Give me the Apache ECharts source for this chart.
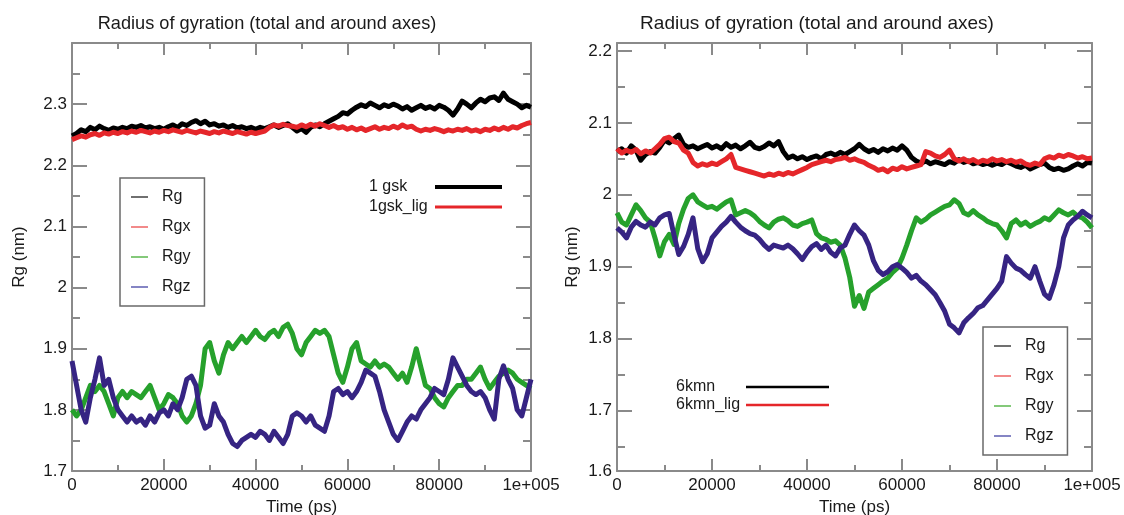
<!DOCTYPE html>
<html>
<head>
<meta charset="utf-8">
<script src="https://cdn.jsdelivr.net/npm/echarts@6/dist/echarts.min.js"></script>
<style>html,body{margin:0;padding:0;background:#fff}#c{width:1124px;height:515px}</style>
</head>
<body>
<div id="c"></div>
<script>
// ---- data (Rg in nm, sampled every 1000 ps from 0 to 100000 ps) ----
var timeStepPs = 1000;
var seriesNames = ['Rg', 'Rgx', 'Rgy', 'Rgz'];
var lineColors = ['#000000', '#e5262a', '#26a12c', '#362483'];
var legendColors = ['#707070', '#f28a8a', '#84c97a', '#8585c4'];
var xTickLabels = ['0', '20000', '40000', '60000', '80000', '1e+005'];

// left panel: 1gsk
var gskRg = [2.248,2.252,2.258,2.255,2.262,2.258,2.264,2.260,2.257,2.261,
 2.259,2.262,2.260,2.264,2.262,2.265,2.261,2.263,2.260,2.262,
 2.259,2.263,2.266,2.262,2.268,2.265,2.270,2.273,2.268,2.272,
 2.266,2.268,2.264,2.266,2.262,2.265,2.261,2.263,2.260,2.262,
 2.259,2.262,2.260,2.263,2.266,2.262,2.265,2.268,2.262,2.256,
 2.260,2.254,2.262,2.266,2.263,2.268,2.272,2.276,2.280,2.286,
 2.284,2.290,2.295,2.299,2.296,2.302,2.298,2.294,2.299,2.296,
 2.300,2.297,2.292,2.296,2.290,2.294,2.298,2.293,2.296,2.292,
 2.298,2.295,2.290,2.282,2.292,2.305,2.300,2.294,2.302,2.308,
 2.304,2.310,2.312,2.306,2.318,2.308,2.304,2.300,2.294,2.298,
 2.295];
var gskRgx = [2.242,2.245,2.248,2.246,2.250,2.252,2.249,2.253,2.251,2.254,
 2.252,2.255,2.253,2.256,2.254,2.257,2.255,2.253,2.256,2.254,
 2.257,2.255,2.258,2.256,2.254,2.257,2.255,2.253,2.256,2.254,
 2.252,2.255,2.253,2.256,2.254,2.252,2.255,2.253,2.251,2.254,
 2.252,2.254,2.256,2.262,2.266,2.264,2.267,2.265,2.264,2.262,
 2.266,2.263,2.267,2.264,2.268,2.265,2.262,2.265,2.261,2.263,
 2.259,2.262,2.258,2.261,2.257,2.260,2.263,2.259,2.262,2.260,
 2.264,2.261,2.266,2.262,2.264,2.259,2.256,2.259,2.257,2.260,
 2.258,2.255,2.258,2.256,2.259,2.257,2.260,2.256,2.258,2.255,
 2.259,2.257,2.261,2.258,2.262,2.259,2.263,2.261,2.265,2.268,
 2.270];
var gskRgy = [1.80,1.79,1.80,1.82,1.84,1.83,1.84,1.83,1.81,1.79,
 1.82,1.83,1.82,1.83,1.825,1.82,1.83,1.84,1.82,1.80,
 1.81,1.825,1.82,1.81,1.79,1.78,1.79,1.81,1.84,1.90,
 1.91,1.88,1.86,1.89,1.91,1.90,1.91,1.92,1.91,1.92,
 1.93,1.92,1.915,1.925,1.93,1.92,1.935,1.94,1.925,1.90,
 1.89,1.91,1.92,1.93,1.925,1.93,1.92,1.89,1.86,1.845,
 1.87,1.90,1.91,1.88,1.875,1.87,1.88,1.87,1.875,1.87,
 1.86,1.85,1.86,1.845,1.87,1.90,1.87,1.84,1.835,1.82,
 1.81,1.805,1.82,1.83,1.84,1.84,1.85,1.85,1.86,1.87,
 1.85,1.835,1.845,1.855,1.86,1.865,1.86,1.85,1.845,1.84,
 1.835];
var gskRgz = [1.88,1.84,1.80,1.78,1.82,1.85,1.885,1.84,1.85,1.82,
 1.80,1.79,1.78,1.79,1.78,1.785,1.775,1.79,1.78,1.795,
 1.80,1.79,1.81,1.80,1.82,1.85,1.855,1.84,1.79,1.77,
 1.775,1.81,1.79,1.78,1.76,1.745,1.74,1.75,1.755,1.76,
 1.755,1.765,1.76,1.75,1.765,1.755,1.745,1.76,1.79,1.795,
 1.79,1.78,1.79,1.775,1.77,1.765,1.79,1.83,1.835,1.825,
 1.83,1.82,1.83,1.845,1.865,1.86,1.855,1.83,1.80,1.78,
 1.76,1.75,1.765,1.78,1.79,1.785,1.80,1.81,1.82,1.835,
 1.83,1.825,1.85,1.885,1.87,1.855,1.84,1.83,1.825,1.83,
 1.82,1.80,1.785,1.85,1.872,1.85,1.835,1.80,1.79,1.82,
 1.85];

// right panel: 6kmn
var kmnRg = [2.060,2.064,2.058,2.068,2.062,2.048,2.056,2.060,2.058,2.066,
 2.076,2.072,2.078,2.083,2.070,2.066,2.068,2.064,2.067,2.070,
 2.065,2.068,2.064,2.071,2.066,2.069,2.064,2.068,2.073,2.066,
 2.064,2.067,2.072,2.068,2.074,2.060,2.051,2.054,2.050,2.053,
 2.049,2.052,2.054,2.050,2.056,2.058,2.055,2.059,2.056,2.060,
 2.064,2.070,2.064,2.060,2.063,2.059,2.064,2.061,2.065,2.062,
 2.068,2.062,2.052,2.047,2.044,2.047,2.043,2.046,2.044,2.042,
 2.046,2.044,2.049,2.045,2.047,2.043,2.045,2.042,2.044,2.041,
 2.044,2.042,2.046,2.043,2.040,2.038,2.041,2.036,2.039,2.042,
 2.044,2.038,2.035,2.037,2.034,2.036,2.040,2.043,2.040,2.045,
 2.044];
var kmnRgx = [2.064,2.058,2.062,2.059,2.063,2.057,2.061,2.058,2.064,2.070,
 2.078,2.080,2.074,2.072,2.062,2.058,2.045,2.040,2.043,2.041,
 2.044,2.042,2.046,2.050,2.056,2.038,2.036,2.034,2.032,2.030,
 2.028,2.026,2.029,2.027,2.030,2.028,2.031,2.029,2.032,2.035,
 2.038,2.042,2.044,2.046,2.048,2.046,2.049,2.050,2.052,2.048,
 2.050,2.047,2.045,2.041,2.038,2.034,2.036,2.032,2.037,2.035,
 2.039,2.036,2.038,2.040,2.042,2.060,2.058,2.054,2.052,2.056,
 2.062,2.050,2.047,2.050,2.046,2.049,2.045,2.048,2.046,2.050,
 2.047,2.049,2.046,2.048,2.045,2.047,2.043,2.041,2.044,2.042,
 2.050,2.053,2.051,2.055,2.053,2.056,2.054,2.051,2.053,2.050,
 2.051];
var kmnRgy = [1.975,1.962,1.958,1.972,1.986,1.978,1.968,1.962,1.940,1.915,
 1.935,1.945,1.931,1.960,1.980,1.995,2.000,1.990,1.986,1.982,
 1.984,1.980,1.985,1.990,1.993,1.972,1.975,1.978,1.975,1.970,
 1.963,1.958,1.954,1.962,1.966,1.968,1.964,1.958,1.956,1.960,
 1.962,1.965,1.946,1.940,1.938,1.934,1.936,1.930,1.912,1.885,
 1.845,1.860,1.842,1.865,1.870,1.875,1.880,1.884,1.892,1.898,
 1.912,1.930,1.950,1.968,1.962,1.966,1.972,1.976,1.980,1.984,
 1.986,1.993,1.988,1.975,1.972,1.978,1.972,1.968,1.963,1.960,
 1.958,1.950,1.940,1.960,1.965,1.958,1.962,1.956,1.960,1.963,
 1.968,1.965,1.972,1.979,1.975,1.972,1.976,1.970,1.968,1.962,
 1.954];
var kmnRgz = [1.954,1.948,1.940,1.955,1.963,1.958,1.955,1.962,1.958,1.968,
 1.972,1.974,1.944,1.917,1.928,1.945,1.968,1.925,1.907,1.918,
 1.940,1.948,1.956,1.962,1.970,1.962,1.955,1.950,1.946,1.944,
 1.938,1.930,1.924,1.930,1.928,1.926,1.930,1.925,1.918,1.910,
 1.920,1.928,1.932,1.924,1.930,1.920,1.915,1.926,1.930,1.945,
 1.958,1.950,1.944,1.930,1.908,1.895,1.889,1.893,1.900,1.903,
 1.898,1.892,1.884,1.888,1.880,1.875,1.868,1.861,1.850,1.838,
 1.820,1.815,1.808,1.822,1.829,1.835,1.843,1.846,1.854,1.862,
 1.870,1.880,1.914,1.905,1.898,1.895,1.889,1.884,1.900,1.880,
 1.862,1.856,1.875,1.900,1.940,1.958,1.965,1.970,1.977,1.972,
 1.968];

// axis ranges / ticks
var leftYRange = [1.7, 2.4];
var rightYRange = [1.616, 2.211];
var rightYLabelValues = [1.616, 1.7, 1.8, 1.9, 2.0, 2.1, 2.2];
var rightYMajorTicks = [1.7, 1.8, 1.9, 2.0, 2.1, 2.2];
var rightYMinorTicks = [1.65, 1.75, 1.85, 1.95, 2.05, 2.15];

var panelTitle = 'Radius of gyration (total and around axes)';
var gskKeys = ['1 gsk', '1gsk_lig'];
var kmnKeys = ['6kmn', '6kmn_lig'];

// ---- chart ----
var FONT = '"Liberation Sans", Arial, sans-serif';
var FRAME = '#8a8a8a';
var TXT = '#1a1a1a';

function pairs(arr) {
  return arr.map(function (v, i) { return [i * timeStepPs, v]; });
}
function xFmt(v) {
  var idx = Math.round(v / 20000);
  return xTickLabels[idx] !== undefined ? xTickLabels[idx] : String(v);
}
function xAxisCfg(grid, pos) {
  var bottom = pos === 'bottom';
  return {
    type: 'value', gridIndex: grid, position: pos, min: 0, max: 100000, interval: 20000,
    axisLine: { show: true, onZero: false, lineStyle: { color: FRAME, width: 2 } },
    axisTick: { show: true, inside: true, length: 12, lineStyle: { color: FRAME, width: 2 } },
    minorTick: { show: true, splitNumber: 2, length: 6, lineStyle: { color: FRAME, width: 2 } },
    axisLabel: { show: bottom, color: TXT, fontSize: 17, margin: 6, formatter: xFmt },
    splitLine: { show: false },
    name: bottom ? 'Time (ps)' : '', nameLocation: 'middle', nameGap: 25,
    nameTextStyle: { color: TXT, fontSize: 17 }
  };
}
function leftYCfg(pos, nameGap) {
  var left = pos === 'left';
  return {
    type: 'value', gridIndex: 0, position: pos, min: leftYRange[0], max: leftYRange[1], interval: 0.1,
    axisLine: { show: true, onZero: false, lineStyle: { color: FRAME, width: 2 } },
    axisTick: { show: true, inside: true, length: 15, lineStyle: { color: FRAME, width: 2 } },
    minorTick: { show: true, splitNumber: 2, length: 8, lineStyle: { color: FRAME, width: 2 } },
    axisLabel: { show: left, color: TXT, fontSize: 17, margin: 5, showMaxLabel: false },
    splitLine: { show: false },
    name: left ? 'Rg (nm)' : '', nameLocation: 'middle', nameGap: nameGap,
    nameTextStyle: { color: TXT, fontSize: 17 }
  };
}
function rightYCfg(pos, ticks, len, withLine, withLabel) {
  return {
    type: 'value', gridIndex: 1, position: pos, min: rightYRange[0], max: rightYRange[1],
    axisLine: { show: withLine, onZero: false, lineStyle: { color: FRAME, width: 2 } },
    axisTick: { show: true, inside: true, length: len, customValues: ticks, lineStyle: { color: FRAME, width: 2 } },
    minorTick: { show: false },
    axisLabel: {
      show: withLabel, color: TXT, fontSize: 17, margin: 5, customValues: rightYLabelValues,
      formatter: function (v) { return String(Math.round(v * 10) / 10); }
    },
    splitLine: { show: false },
    name: withLabel ? 'Rg (nm)' : '', nameLocation: 'middle', nameGap: 36,
    nameTextStyle: { color: TXT, fontSize: 17 }
  };
}
function legendCfg(left, top) {
  return {
    orient: 'vertical', left: left, top: top, icon: 'rect', itemWidth: 17, itemHeight: 2, itemGap: 14,
    padding: [11, 14, 11, 11], borderColor: '#6a6a6a', borderWidth: 1.5, backgroundColor: '#fff',
    selectedMode: false,
    textStyle: { fontSize: 16, color: TXT, padding: [0, 0, 0, 9] },
    data: seriesNames.map(function (n, i) { return { name: n, itemStyle: { color: legendColors[i] } }; })
  };
}
function makeSeries(arrs, xi, yi) {
  return arrs.map(function (a, i) {
    return {
      name: seriesNames[i], type: 'line', xAxisIndex: xi, yAxisIndex: yi, data: pairs(a),
      showSymbol: false, symbol: 'none', smooth: false,
      lineStyle: { color: lineColors[i], width: 5, join: 'round' }, itemStyle: { color: lineColors[i] },
      z: 2 + i
    };
  });
}
function keyGraphics(keys, tx, lx1, lx2, ys, widths) {
  var g = [];
  keys.forEach(function (k, i) {
    g.push({ type: 'text', x: tx, y: ys[i], style: { text: k, fill: TXT, font: '16px ' + FONT, verticalAlign: 'middle' } });
    g.push({ type: 'line', shape: { x1: lx1, y1: ys[i], x2: lx2, y2: ys[i] }, style: { stroke: lineColors[i], lineWidth: widths[i] } });
  });
  return g;
}

var chart = echarts.init(document.getElementById('c'), null, { renderer: 'canvas' });
chart.setOption({
  animation: false,
  backgroundColor: '#fff',
  textStyle: { fontFamily: FONT },
  title: [
    { text: panelTitle, left: 262, top: 10, textAlign: 'center', textStyle: { fontSize: 18.2, fontWeight: 'normal', color: TXT } },
    { text: panelTitle, left: 812, top: 9, textAlign: 'center', textStyle: { fontSize: 19, fontWeight: 'normal', color: TXT } }
  ],
  grid: [
    { left: 72, right: 593, top: 43, bottom: 44, containLabel: false, outerBoundsMode: 'none' },
    { left: 617, right: 32, top: 43, bottom: 44, containLabel: false, outerBoundsMode: 'none' }
  ],
  xAxis: [xAxisCfg(0, 'bottom'), xAxisCfg(0, 'top'), xAxisCfg(1, 'bottom'), xAxisCfg(1, 'top')],
  yAxis: [
    leftYCfg('left', 44), leftYCfg('right', 0),
    rightYCfg('left', rightYMajorTicks, 15, true, true),
    rightYCfg('left', rightYMinorTicks, 8, false, false),
    rightYCfg('right', rightYMajorTicks, 15, true, false),
    rightYCfg('right', rightYMinorTicks, 8, false, false)
  ],
  legend: [legendCfg(120, 178), legendCfg(983, 327)],
  series: makeSeries([gskRg, gskRgx, gskRgy, gskRgz], 0, 0)
    .concat(makeSeries([kmnRg, kmnRgx, kmnRgy, kmnRgz], 2, 2)),
  graphic: keyGraphics(gskKeys, 369, 435, 502, [187, 207], [4, 3])
    .concat(keyGraphics(kmnKeys, 676, 746, 829, [387, 405], [2.5, 2.5]))
});
</script>
</body>
</html>
